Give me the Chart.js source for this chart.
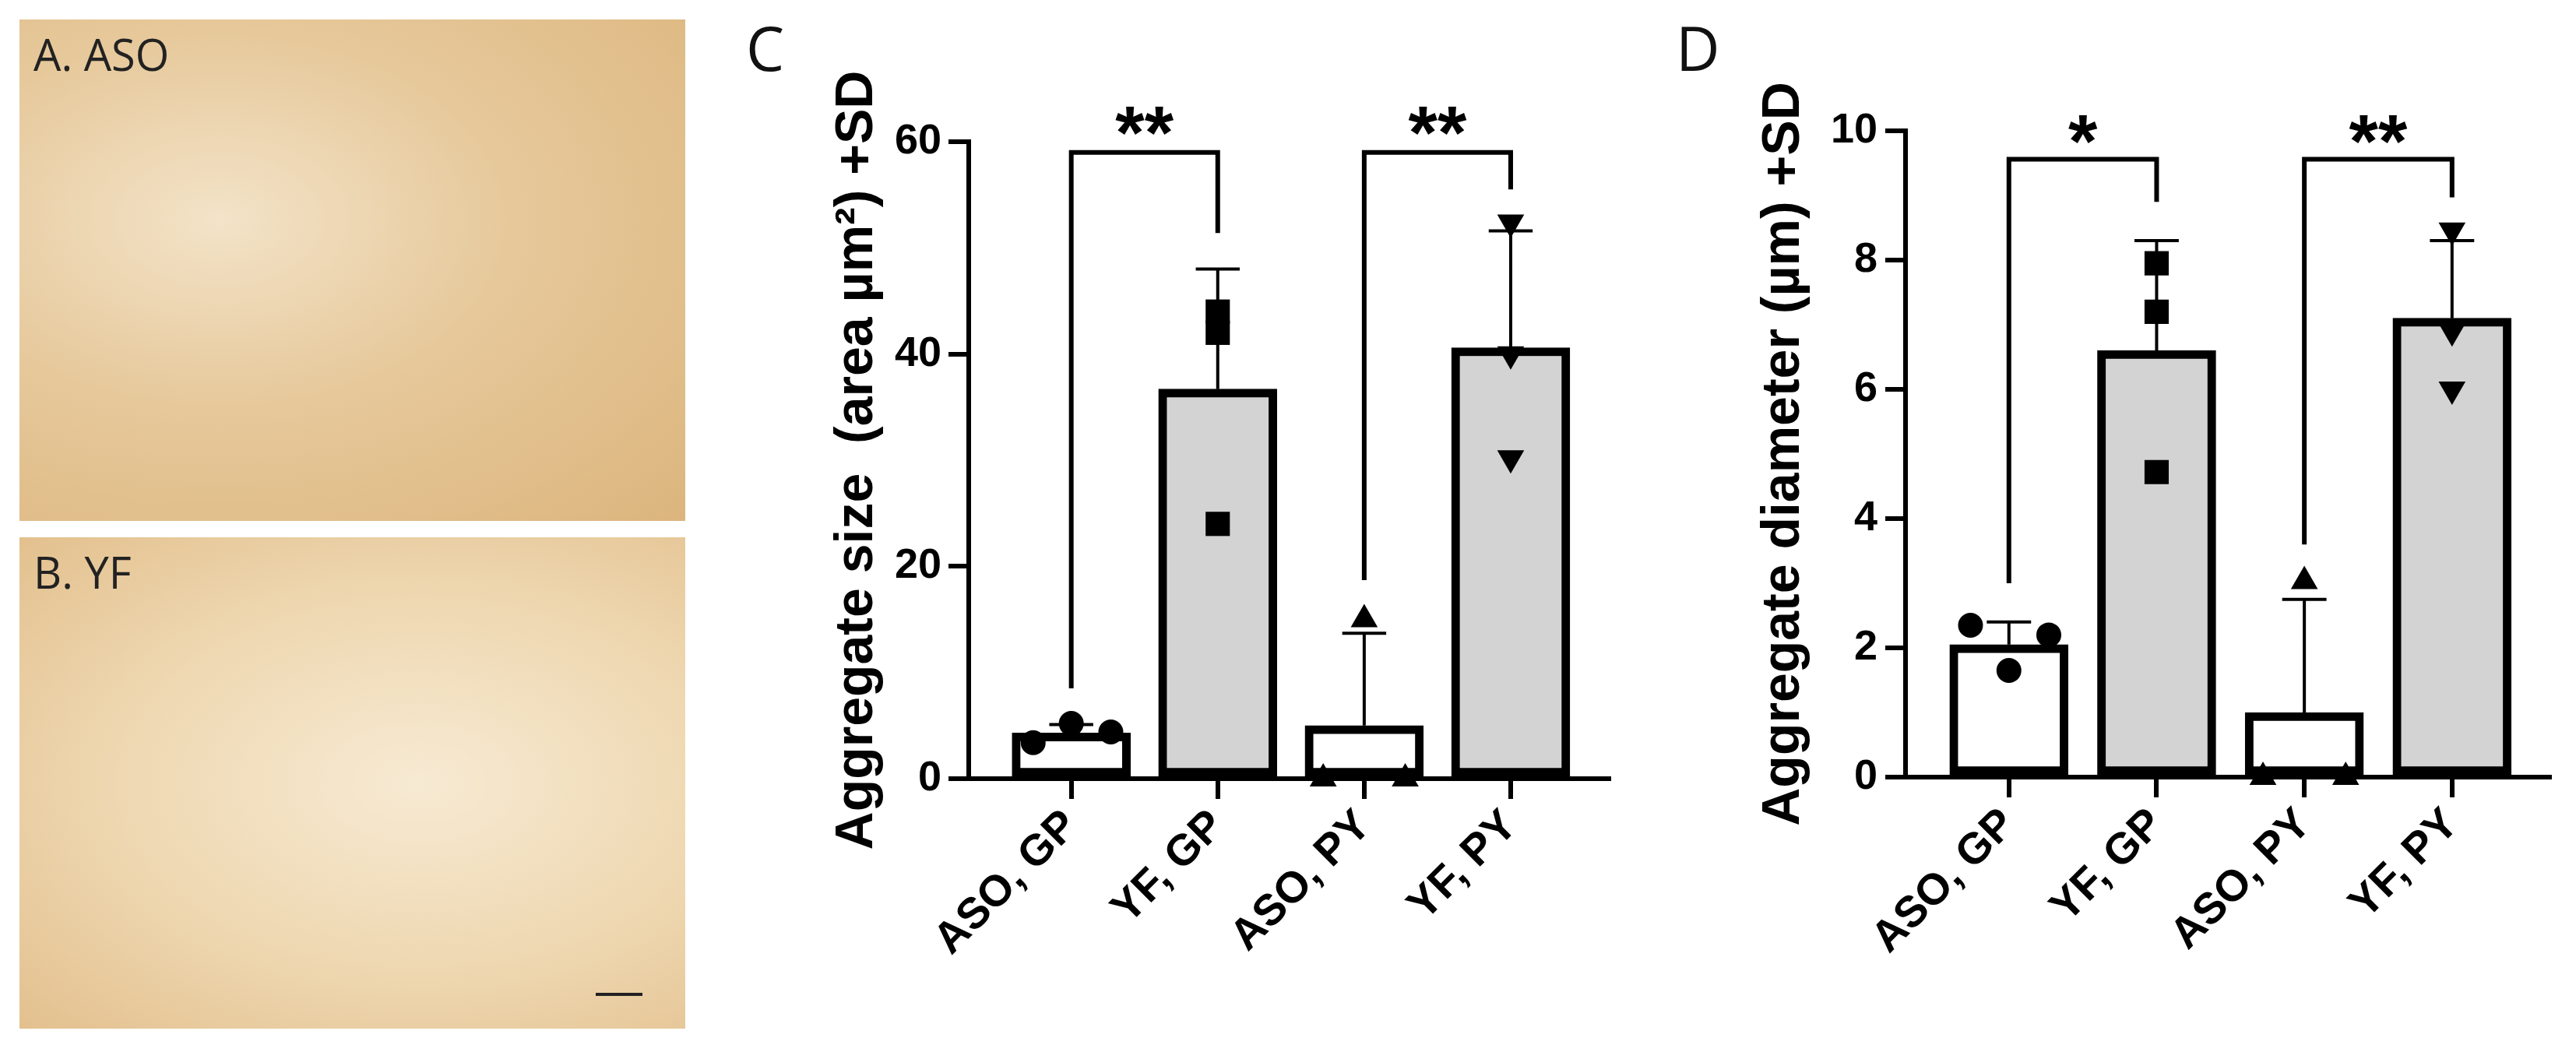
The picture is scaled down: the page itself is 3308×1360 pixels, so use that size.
<!DOCTYPE html>
<html><head><meta charset="utf-8">
<script src="https://cdn.jsdelivr.net/npm/chart.js@4/dist/chart.umd.min.js"></script>
<style>
body{margin:0;width:3308px;height:1360px;background:#fff;position:relative;overflow:hidden;font-family:"Open Sans",sans-serif}
.photo{position:absolute;background:radial-gradient(ellipse at 30% 40%,#f3e3c8 0%,#e6c89a 45%,#dcb57d 100%)}
.plab{position:absolute;font-size:56px;color:#222;left:18px;top:6px}
.letter{position:absolute;font-size:78px;color:#111;line-height:1}
canvas{position:absolute;top:0}
</style></head><body>
<div class="photo" style="left:25px;top:25px;width:855px;height:644px"><div class="plab">A. ASO</div></div>
<div class="photo" style="left:25px;top:690px;width:855px;height:631px;background:radial-gradient(ellipse at 60% 50%,#f7ead3 0%,#eed7b0 55%,#e3c08e 100%)"><div class="plab">B. YF</div>
<div style="position:absolute;left:740px;top:585px;width:60px;height:4px;background:#222"></div></div>
<div class="letter" style="left:958px;top:22px">C</div>
<div class="letter" style="left:2152px;top:22px">D</div>
<canvas id="c1" style="left:900px" width="1200" height="1360"></canvas>
<canvas id="c2" style="left:2100px" width="1208" height="1360"></canvas>
<script>
const categories=["ASO, GP","YF, GP","ASO, PY","YF, PY"];
// Panel C
const sizeMean=[4.3,36.7,5.0,40.6];
const sizeSD=[0.8,11.3,8.7,11.0];
const sizePts=[[3.4,5.2,4.4],[24.0,42.0,44.0],[0,0,15.0],[30.2,40.0,52.4]];
const sizeTicks=[0,20,40,60];
const sizeBrackets=[[8.5,59,51.4],[18.7,59,55.5]];
const sizeStars=["**","**"];const sizeStarY=63.3;
// Panel D
const diamMean=[2.05,6.6,1.0,7.1];
const diamSD=[0.35,1.7,1.75,1.2];
const diamPts=[[2.35,1.65,2.2],[4.72,7.2,7.95],[0,0,3.03],[6.0,6.9,8.46]];
const diamTicks=[0,2,4,6,8,10];
const diamBrackets=[[3.0,9.56,8.9],[3.6,9.56,8.97]];
const diamStars=["*","**"];const diamStarY=10.25;

const jitter=[[-0.26,0,0.27],[0,0,0],[-0.28,0.28,0],[0,0,0]];
const styles=['circle','rect','triangle','triangle'];
const rots=[0,0,0,180];
const radii=[16,22,20,20];

function build(id,mean,sd,pts,ticks,brackets,stars,starY,o){
  const ds=[];
  ds.push({type:'bar',data:mean.map((v,i)=>({x:i,y:v})),backgroundColor:['#fff','#d3d3d3','#fff','#d3d3d3'],
    borderColor:'#000',borderWidth:11,borderSkipped:false,barThickness:152,order:3});
  const err=[];
  mean.forEach((m,i)=>{err.push({x:i,y:m},{x:i,y:m+sd[i]},{x:i,y:null},{x:i-0.15,y:m+sd[i]},{x:i+0.15,y:m+sd[i]},{x:i,y:null});});
  ds.push({type:'line',data:err,borderColor:'#000',borderWidth:4,pointRadius:0,spanGaps:false,order:2,clip:false});
  const br=[];
  brackets.forEach((b,k)=>{const a=2*k;br.push({x:a,y:b[0]},{x:a,y:b[1]},{x:a+1,y:b[1]},{x:a+1,y:b[2]},{x:a,y:null});});
  ds.push({type:'line',data:br,borderColor:'#000',borderWidth:6,pointRadius:0,spanGaps:false,order:2,clip:false});
  pts.forEach((p,i)=>{ds.push({type:'scatter',data:p.map((v,j)=>({x:i+jitter[i][j],y:v})),pointStyle:styles[i],rotation:rots[i],
    pointRadius:radii[i],backgroundColor:'#000',borderColor:'#000',borderWidth:0,order:1,clip:false});});
  const starPlugin={id:'stars',afterDraw(ch){const c=ch.ctx,x=ch.scales.x,y=ch.scales.y;c.save();c.font='bold 96px "Liberation Sans",Arial';
    c.textAlign='center';c.textBaseline='middle';c.fillStyle='#000';
    stars.forEach((s,k)=>{c.fillText(s,x.getPixelForValue(2*k+0.5),y.getPixelForValue(starY)+40);});c.restore();}};
  const font={family:'"Liberation Sans",Arial',weight:'bold',size:54};
  new Chart(document.getElementById(id),{data:{datasets:ds},plugins:[starPlugin],
    options:{responsive:false,animation:false,events:[],
      layout:{padding:{top:o.top,right:o.right,left:0,bottom:0}},
      plugins:{legend:{display:false},tooltip:{enabled:false}},
      scales:{
        x:{type:'linear',min:o.min,max:o.max,offset:false,
          afterBuildTicks(a){a.ticks=[0,1,2,3].map(v=>({value:v}));},
          afterFit(a){a.height=1360-o.bottom;},
          grid:{drawOnChartArea:false,offset:false,color:'#000',lineWidth:6,tickLength:26},
          border:{color:'#000',width:6},
          ticks:{color:'#000',font:{...font,size:56},maxRotation:45,minRotation:45,padding:2,callback:v=>categories[v]}},
        y:{min:0,max:ticks[ticks.length-1],
          afterBuildTicks(a){a.ticks=ticks.map(v=>({value:v}));},
          afterFit(a){a.width=o.left;},
          grid:{drawOnChartArea:false,color:'#000',lineWidth:6,tickLength:26},
          border:{color:'#000',width:6},
          ticks:{color:'#000',font:font,padding:o.tp},
          title:{display:true,text:o.title,color:'#000',font:{...font,size:68},padding:{top:o.tpad,bottom:0}}}
      }}});
}
build('c1',sizeMean,sizeSD,sizePts,sizeTicks,sizeBrackets,sizeStars,sizeStarY,
  {top:182,bottom:1000,left:344,right:34,min:-0.70,max:3.67,tp:9,tpad:160,title:'Aggregate size  (area µm²) +SD'});
build('c2',diamMean,diamSD,diamPts,diamTicks,diamBrackets,diamStars,diamStarY,
  {top:168,bottom:998,left:347,right:34,min:-0.70,max:3.66,tp:10,tpad:150,title:'Aggregate diameter (µm) +SD'});
</script></body></html>
